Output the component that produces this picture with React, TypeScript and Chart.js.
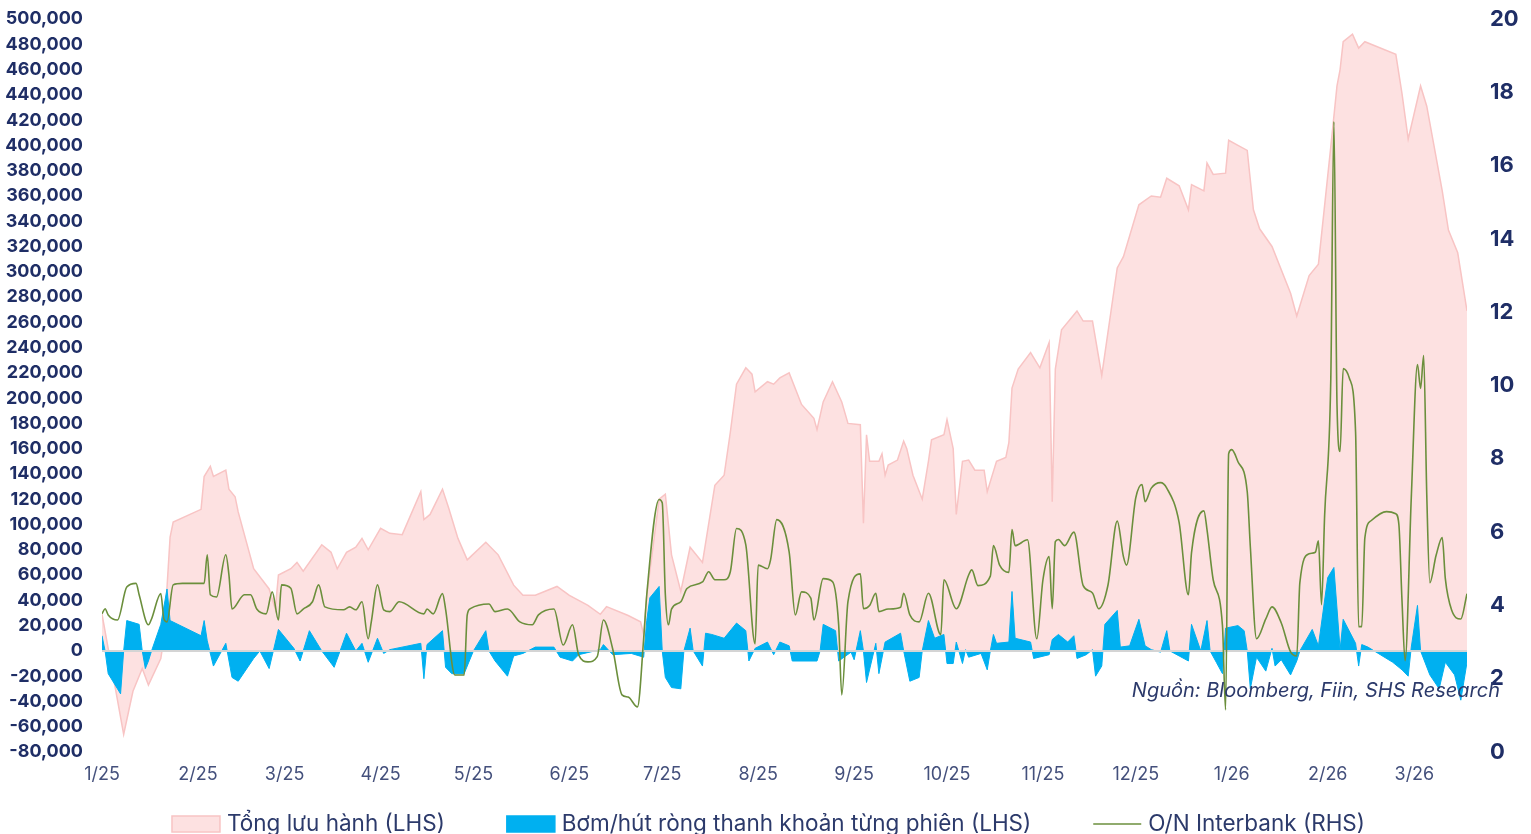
import { useEffect, useRef } from 'react';
import { Chart, registerables } from 'chart.js';

Chart.register(...registerables);

// x values are calendar days counted from 1 Jan 2025
const monthTickDays = [0, 31, 59, 90, 120, 151, 181, 212, 243, 273, 304, 334, 365, 396, 424];
const monthTickLabels = ['1/25', '2/25', '3/25', '4/25', '5/25', '6/25', '7/25', '8/25', '9/25', '10/25', '11/25', '12/25', '1/26', '2/26', '3/26'];

const seriesNames = ['Tổng lưu hành (LHS)', 'Bơm/hút ròng thanh khoản từng phiên (LHS)', 'O/N Interbank (RHS)'];
const sourceText = 'Nguồn: Bloomberg, Fiin, SHS Research';

// Tổng lưu hành (thousand)
const outstandingDays = [0, 7, 10, 13, 15, 19, 20, 22, 23, 32, 33, 35, 36, 40, 41, 43, 44, 49, 54, 56, 57, 61, 63, 65, 71, 74, 76, 79, 82, 84, 86, 90, 93, 97, 103, 104, 106, 110, 112, 115, 118, 124, 128, 133, 136, 140, 147, 151, 157, 161, 163, 170, 174, 175, 176, 180, 182, 184, 187, 190, 194, 198, 201, 203, 205, 208, 210, 211, 215, 217, 219, 222, 226, 230, 231, 233, 236, 239, 241, 245, 246, 247, 248, 251, 252, 253, 254, 257, 259, 260, 262, 265, 267, 268, 272, 273, 275, 276, 278, 280, 282, 285, 286, 289, 292, 293, 294, 296, 300, 303, 306, 307, 308, 310, 315, 317, 320, 323, 328, 330, 335, 339, 342, 344, 348, 351, 352, 356, 357, 359, 363, 364, 367, 370, 372, 374, 378, 384, 386, 390, 393, 397, 399, 400, 401, 404, 406, 408, 418, 420, 422, 426, 428, 433, 435, 438, 441];
const outstandingValues = [29, -66, -32, -14, -27, -6, 10, 90, 102, 112, 138, 146, 138, 143, 128, 122, 110, 65, 49, 33, 60, 65, 70, 63, 84, 78, 65, 78, 82, 89, 80, 97, 93, 92, 126, 104, 108, 128, 113, 89, 72, 86, 76, 52, 44, 44, 51, 44, 36, 29, 35, 28, 23, 13, 44, 120, 124, 76, 47, 82, 70, 131, 139, 173, 211, 224, 219, 205, 213, 211, 216, 220, 195, 184, 175, 197, 213, 197, 180, 179, 101, 171, 150, 150, 156, 139, 147, 151, 166, 160, 139, 120, 150, 167, 171, 183, 160, 108, 150, 151, 143, 143, 126, 150, 153, 165, 208, 223, 236, 224, 244, 118, 223, 254, 269, 261, 261, 218, 303, 312, 353, 360, 359, 374, 368, 349, 369, 364, 386, 377, 378, 404, 400, 396, 349, 334, 320, 283, 265, 297, 306, 399, 447, 460, 482, 488, 477, 482, 472, 441, 405, 447, 431, 364, 333, 315, 269];

// Bơm/hút ròng (thousand)
const netDays = [0, 1, 2, 6, 7, 8, 12, 13, 14, 15, 16, 19, 21, 22, 32, 33, 34, 36, 40, 42, 44, 49, 51, 54, 57, 62, 64, 67, 71, 75, 79, 82, 84, 86, 89, 91, 93, 103, 104, 105, 110, 111, 113, 117, 120, 124, 125, 127, 131, 133, 136, 140, 146, 148, 152, 154, 161, 162, 165, 171, 175, 176, 177, 180, 181, 182, 184, 187, 188, 190, 191, 194, 195, 197, 201, 205, 208, 209, 211, 215, 217, 219, 222, 223, 231, 232, 233, 237, 238, 242, 243, 245, 246, 247, 250, 251, 253, 258, 259, 261, 264, 265, 267, 269, 272, 273, 275, 276, 278, 279, 280, 284, 286, 287, 288, 289, 293, 294, 295, 300, 301, 306, 307, 309, 312, 314, 315, 318, 320, 321, 323, 324, 328, 329, 332, 335, 337, 339, 342, 344, 345, 348, 351, 352, 355, 357, 358, 360, 362, 363, 367, 369, 370, 371, 373, 376, 378, 379, 381, 384, 386, 387, 391, 393, 396, 398, 400, 401, 405, 406, 407, 409, 413, 417, 420, 422, 423, 425, 426, 429, 432, 434, 437, 439, 441];
const netValues = [12, 0, -18, -34, 0, 24, 21, 0, -14, -8, 0, 21, 49, 24, 12, 24, 8, -12, 6, -21, -24, -6, 0, -14, 17, 2, -8, 16, 0, -13, 14, 0, 6, -9, 10, -2, 1, 6, -22, 5, 16, -13, -18, -18, 0, 16, 0, -8, -20, -4, -2, 3, 3, -5, -8, -3, 1, 5, -3, -2, -5, 24, 42, 51, 0, -21, -29, -30, 0, 18, 0, -12, 14, 13, 10, 22, 16, -8, 2, 7, -3, 7, 4, -8, -8, 0, 21, 16, -8, -1, -7, 16, 0, -25, 6, -18, 7, 14, 0, -24, -21, 0, 24, 10, 13, -10, -10, 7, -10, 1, -5, -2, -15, 0, 13, 6, 7, 47, 10, 7, -6, -3, 9, 13, 7, 12, -6, -3, 1, -20, -12, 21, 32, 3, 4, 25, 4, 1, -1, 16, 0, -4, -8, 21, 0, 24, 0, -9, -18, 18, 20, 16, 0, -30, -5, -16, 2, -12, -7, -19, -8, 0, 17, 4, 58, 66, 1, 25, 6, -12, 5, 3, -3, -9, -15, -20, 3, 36, 0, -19, -30, -9, -19, -39, -9];

// O/N Interbank (%)
const rateDays = [0, 1, 2, 5, 8, 11, 12, 15, 16, 19, 20, 21, 23, 26, 33, 34, 35, 37, 40, 41, 42, 46, 48, 50, 53, 55, 57, 58, 61, 63, 65, 68, 70, 72, 78, 80, 82, 84, 86, 87, 89, 91, 93, 96, 104, 105, 107, 110, 111, 114, 117, 118, 119, 125, 127, 131, 135, 139, 141, 146, 149, 152, 154, 157, 160, 162, 165, 168, 170, 173, 175, 176, 180, 181, 182, 183, 184, 187, 189, 194, 196, 198, 201, 203, 205, 208, 211, 212, 215, 216, 218, 222, 224, 226, 229, 230, 233, 236, 238, 239, 241, 245, 246, 248, 250, 251, 254, 258, 259, 261, 264, 267, 271, 272, 276, 280, 281, 283, 287, 288, 290, 293, 294, 295, 299, 302, 304, 306, 307, 308, 309, 311, 314, 317, 320, 322, 325, 328, 330, 331, 334, 336, 337, 339, 342, 344, 348, 351, 352, 356, 357, 359, 362, 363, 364, 365, 367, 370, 371, 373, 376, 378, 381, 384, 386, 387, 390, 392, 393, 394, 395, 397, 398, 399, 400, 401, 403, 405, 406, 407, 408, 410, 415, 418, 419, 420, 421, 423, 425, 426, 427, 428, 429, 431, 433, 434, 436, 439, 441];
const rateValues = [3.77, 3.91, 3.74, 3.6, 4.5, 4.6, 4.29, 3.47, 3.63, 4.32, 3.63, 3.55, 4.56, 4.6, 4.6, 5.38, 4.29, 4.23, 5.38, 4.84, 3.9, 4.29, 4.29, 3.9, 3.77, 4.37, 3.6, 4.56, 4.47, 3.77, 3.9, 4.1, 4.56, 3.96, 3.88, 3.96, 3.88, 4.1, 3.09, 3.55, 4.56, 3.88, 3.83, 4.1, 3.77, 3.9, 3.77, 4.32, 3.9, 2.1, 2.1, 3.74, 3.91, 4.04, 3.83, 3.9, 3.55, 3.47, 3.74, 3.9, 2.92, 3.47, 2.65, 2.46, 2.6, 3.6, 2.81, 1.56, 1.5, 1.23, 3.09, 4.29, 6.89, 6.8, 4.3, 3.47, 3.9, 4.1, 4.46, 4.64, 4.92, 4.7, 4.7, 4.92, 6.1, 5.65, 2.95, 5.1, 5.0, 5.24, 6.34, 5.46, 3.74, 4.37, 4.2, 3.6, 4.73, 4.65, 3.47, 1.56, 4.1, 4.86, 3.91, 4.0, 4.33, 3.83, 3.9, 3.95, 4.33, 3.74, 3.55, 4.33, 3.2, 4.7, 3.91, 4.83, 4.97, 4.54, 4.8, 5.63, 5.1, 4.9, 6.07, 5.63, 5.79, 3.09, 4.7, 5.33, 3.91, 5.74, 5.8, 5.63, 6.0, 4.54, 4.34, 3.91, 4.55, 6.3, 5.33, 5.1, 6.94, 7.3, 6.83, 7.2, 7.35, 7.2, 6.26, 4.29, 5.44, 6.58, 6.07, 4.7, 3.44, 1.15, 8.14, 8.25, 7.92, 7.1, 5.6, 3.09, 3.63, 3.96, 3.52, 2.73, 2.62, 4.62, 5.41, 5.45, 5.76, 4.02, 6.45, 10.2, 17.2, 9.48, 8.2, 10.46, 10.2, 8.74, 3.42, 3.42, 5.84, 6.31, 6.56, 6.5, 6.2, 4.13, 2.49, 6.94, 10.57, 9.92, 10.82, 7.02, 4.62, 5.36, 5.85, 4.73, 3.88, 3.63, 4.32];

const W = 1531;
const H = 834;
const NAVY = '#1f2e66';
const TEXT = '#2c3a6b';
const FONT = 'Inter';

// source note, drawn inside the plot at the lower right
const sourceNote = {
  id: 'sourceNote',
  afterDraw(chart: any) {
    const { ctx, chartArea, scales } = chart;
    ctx.save();
    ctx.font = `italic 20px ${FONT}`;
    ctx.fillStyle = TEXT;
    ctx.textAlign = 'right';
    ctx.textBaseline = 'middle';
    ctx.fillText(sourceText, chartArea.right + 33, scales.y.getPixelForValue(-32000));
    ctx.restore();
  },
};

// gray zero line, drawn above the area fills and below the rate line
const zeroLine = {
  id: 'zeroLine',
  afterDatasetDraw(chart: any, args: any) {
    if (args.index !== 1) return;
    const { ctx, chartArea, scales } = chart;
    const y = scales.y.getPixelForValue(0);
    ctx.save();
    ctx.strokeStyle = '#d4d4d4';
    ctx.lineWidth = 2;
    ctx.beginPath();
    ctx.moveTo(chartArea.left, y);
    ctx.lineTo(chartArea.right, y);
    ctx.stroke();
    ctx.restore();
  },
};

// legend row below the axis
const bottomLegend = {
  id: 'bottomLegend',
  afterDraw(chart: any) {
    const { ctx, chartArea } = chart;
    const ds = chart.data.datasets;
    const boxW = 48;
    const boxH = 16;
    const gapText = 7;
    const gapItem = 62;
    ctx.save();
    ctx.font = `22.5px ${FONT}`;
    const widths = ds.map((d: any) => boxW + gapText + ctx.measureText(d.label).width);
    const total = widths.reduce((a: number, b: number) => a + b, 0) + gapItem * (ds.length - 1);
    let x = (chart.width - total) / 2 + 3;
    const y = chartArea.bottom + 72;
    ds.forEach((d: any, i: number) => {
      if (d.fill === false) {
        ctx.strokeStyle = d.borderColor;
        ctx.lineWidth = d.borderWidth;
        ctx.beginPath();
        ctx.moveTo(x, y);
        ctx.lineTo(x + boxW, y);
        ctx.stroke();
      } else {
        ctx.fillStyle = d.backgroundColor;
        ctx.fillRect(x, y - boxH / 2, boxW, boxH);
        ctx.strokeStyle = d.borderColor;
        ctx.lineWidth = 1.5;
        ctx.strokeRect(x, y - boxH / 2, boxW, boxH);
      }
      ctx.fillStyle = TEXT;
      ctx.textAlign = 'left';
      ctx.textBaseline = 'middle';
      ctx.fillText(d.label, x + boxW + gapText, y);
      x += widths[i] + gapItem;
    });
    ctx.restore();
  },
};

const noEdgePadding = (s: any, width: number) => {
  s.width = width;
  s.paddingTop = 0;
  s.paddingBottom = 0;
};

export default function App() {
  const ref = useRef<HTMLCanvasElement>(null);

  useEffect(() => {
    document.body.style.margin = '0';
    document.body.style.overflow = 'hidden';
    const chart = new Chart(ref.current as HTMLCanvasElement, {
      type: 'line',
      data: {
        datasets: [
          {
            label: seriesNames[0],
            data: outstandingDays.map((d, i) => ({ x: d, y: outstandingValues[i] * 1000 })),
            yAxisID: 'y',
            fill: 'origin',
            backgroundColor: '#fde1e1',
            borderColor: '#f8c4c4',
            borderWidth: 1.5,
            pointRadius: 0,
            tension: 0,
            order: 3,
          },
          {
            label: seriesNames[1],
            data: netDays.map((d, i) => ({ x: d, y: netValues[i] * 1000 })),
            yAxisID: 'y',
            fill: 'origin',
            backgroundColor: '#00b0f0',
            borderColor: '#00b0f0',
            borderWidth: 1,
            pointRadius: 0,
            tension: 0,
            order: 2,
          },
          {
            label: seriesNames[2],
            data: rateDays.map((d, i) => ({ x: d, y: rateValues[i] })),
            yAxisID: 'y2',
            fill: false,
            backgroundColor: '#6b8f3c',
            borderColor: '#6b8f3c',
            borderWidth: 1.6,
            pointRadius: 0,
            cubicInterpolationMode: 'monotone',
            order: 1,
          },
        ],
      },
      options: {
        responsive: false,
        animation: false,
        layout: { padding: { top: 19, left: 0, right: 0, bottom: 37 } },
        plugins: {
          tooltip: { enabled: false },
          legend: { display: false },
        },
        scales: {
          x: {
            type: 'linear',
            min: 0,
            max: 441,
            afterBuildTicks: (s: any) => {
              s.ticks = monthTickDays.map((v) => ({ value: v }));
            },
            afterFit: (s: any) => {
              s.height = 45;
            },
            ticks: {
              autoSkip: false,
              maxRotation: 0,
              padding: 12,
              color: '#44507c',
              font: { family: FONT, size: 18 },
              callback: (v: any) => {
                const i = monthTickDays.indexOf(Number(v));
                return i >= 0 ? monthTickLabels[i] : '';
              },
            },
            grid: { display: false, drawTicks: false },
            border: { display: false },
          },
          y: {
            position: 'left',
            min: -80000,
            max: 500000,
            afterFit: (s: any) => noEdgePadding(s, 102),
            ticks: {
              stepSize: 20000,
              autoSkip: false,
              padding: 19,
              color: NAVY,
              font: { family: FONT, size: 18, weight: 'bold' },
              callback: (v: any) => Number(v).toLocaleString('en-US'),
            },
            grid: { display: false, drawTicks: false },
            border: { display: false },
          },
          y2: {
            position: 'right',
            min: 0,
            max: 20,
            afterFit: (s: any) => noEdgePadding(s, 64),
            ticks: {
              stepSize: 2,
              autoSkip: false,
              padding: 23,
              color: NAVY,
              font: { family: FONT, size: 22, weight: 'bold' },
            },
            grid: { display: false, drawTicks: false },
            border: { display: false },
          },
        },
      } as any,
      plugins: [zeroLine, sourceNote, bottomLegend],
    });
    return () => chart.destroy();
  }, []);

  return <canvas ref={ref} width={W} height={H} style={{ display: 'block' }} />;
}
